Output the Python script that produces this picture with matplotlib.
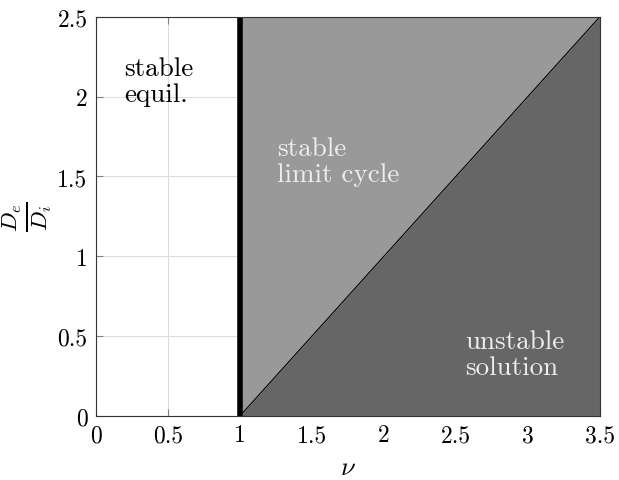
import numpy as np
import matplotlib
matplotlib.use("Agg")
import matplotlib.pyplot as plt

plt.rcParams['font.family'] = 'serif'
plt.rcParams['font.serif'] = ['cmr10']
plt.rcParams['mathtext.fontset'] = 'cm'
plt.rcParams['axes.formatter.use_mathtext'] = True

# stability boundaries
nu_crit = 1.0
nu = np.array([1.0, 3.5])
ratio_line = np.array([0.0, 2.5])   # De/Di = nu - 1
x_ticks = [0, 0.5, 1, 1.5, 2, 2.5, 3, 3.5]
y_ticks = [0, 0.5, 1, 1.5, 2, 2.5]
x_labels = ['0', '0.5', '1', '1.5', '2', '2.5', '3', '3.5']
y_labels = ['0', '0.5', '1', '1.5', '2', '2.5']
x_max, y_max = 3.5, 2.5

fig = plt.figure(figsize=(6.19, 4.81), dpi=100)
ax = fig.add_axes([0.155, 0.133, 0.814, 0.830])

ax.set_axisbelow(True)
ax.grid(True, color='#dddddd', linewidth=0.8)

# limit cycle region (above diagonal) and unstable region (below)
ax.fill_between(nu, ratio_line, y_max, color='#999999', linewidth=0, zorder=1)
ax.fill_between(nu, 0, ratio_line, color='#666666', linewidth=0, zorder=1)
ax.plot(nu, ratio_line, color='black', linewidth=0.8, zorder=2)
ax.axvline(nu_crit, color='black', linewidth=4, zorder=3)

txt = dict(ha='left', va='top', fontsize=19.5, linespacing=1.12, zorder=4)
ax.text(0.195, 2.255, 'stable\nequil.', color='black', **txt)
ax.text(1.26, 1.75, 'stable\nlimit cycle', color='#eeeeee', **txt)
ax.text(2.565, 0.545, 'unstable\nsolution', color='#eeeeee', **txt)

ax.set_xlim(0, x_max)
ax.set_ylim(0, y_max)
ax.set_xticks(x_ticks)
ax.set_yticks(y_ticks)
ax.set_xticklabels(x_labels, fontsize=17)
ax.set_yticklabels(y_labels, fontsize=17)
ax.tick_params(direction='in', length=5, width=0.8, color='#808080',
               top=True, right=True, pad=6)
for s in ax.spines.values():
    s.set_color('#333333')
    s.set_linewidth(0.8)
    s.set_zorder(5)

ax.set_xlabel(r'$\nu$', fontsize=19, labelpad=6)
# y label placed by hand, rotated like a normal axis label
fig.text(27 / 619, 1 - 217 / 481, r'$\frac{D_e}{D_i}$', fontsize=24,
         rotation=90, ha='center', va='center')

fig.savefig('out.png', dpi=100)
